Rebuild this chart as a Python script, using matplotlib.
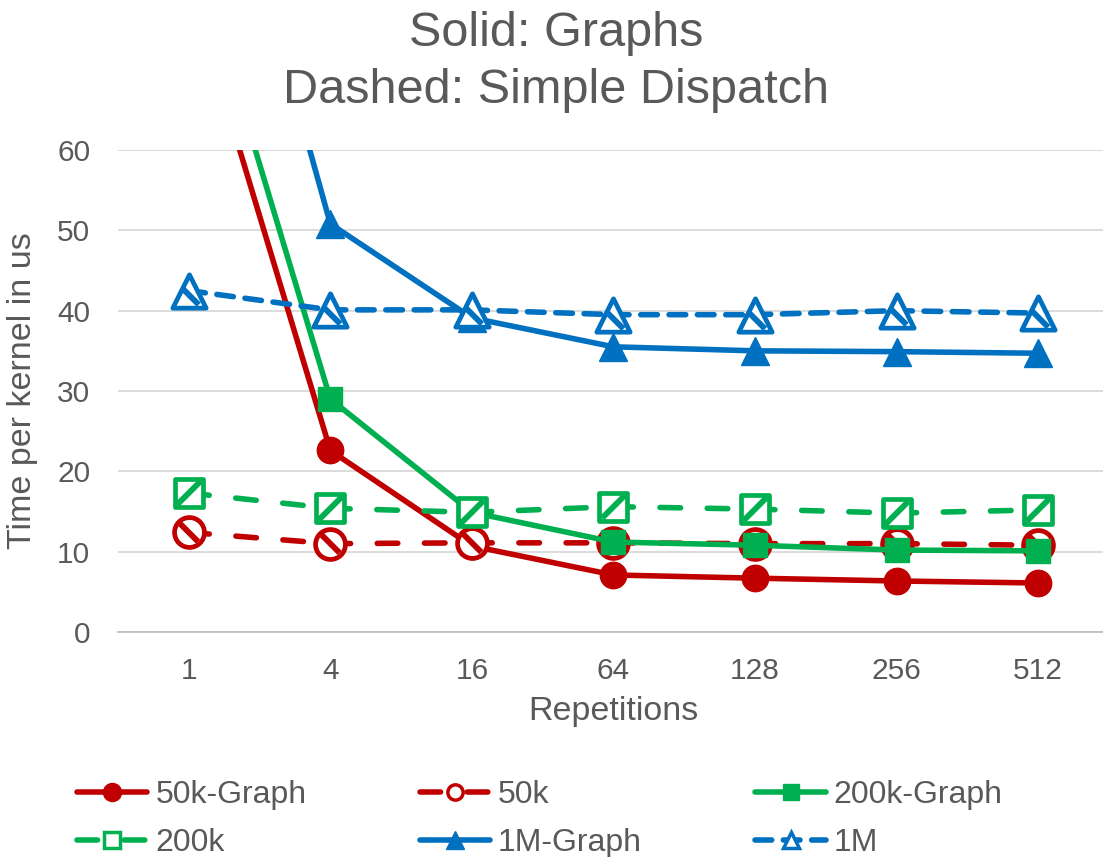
import matplotlib.pyplot as plt
from matplotlib.lines import Line2D
from matplotlib.path import Path

plt.rcParams['font.family'] = ['Liberation Sans', 'DejaVu Sans']

# repetitions on the category axis
reps = ["1", "4", "16", "64", "128", "256", "512"]

# time per kernel (us), graph launches
graph_50k = [81.0, 22.6, 10.7, 7.1, 6.7, 6.35, 6.1]
graph_200k = [87.5, 29.0, 14.9, 11.2, 10.8, 10.2, 10.1]
graph_1m = [114.0, 50.8, 39.1, 35.5, 35.0, 34.9, 34.7]

# time per kernel (us), simple dispatch
plain_50k = [12.4, 11.0, 11.1, 11.1, 11.0, 11.0, 10.8]
plain_200k = [17.3, 15.4, 14.9, 15.6, 15.3, 14.8, 15.2]
plain_1m = [42.5, 40.1, 40.1, 39.5, 39.5, 40.0, 39.7]

red = "#C00000"
green = "#00B050"
blue = "#0070C0"
txt = "#595959"

# diagonal stripe drawn inside the hollow markers; the leading MOVETO
# at the unit corner keeps the stripe scaled like the outer marker
M, L = Path.MOVETO, Path.LINETO
stripe_circle = Path([(1, 1), (-0.62, 0.62), (0.62, -0.62)], [M, M, L])
stripe_square = Path([(1, 1), (-0.85, -0.85), (0.85, 0.85)], [M, M, L])
stripe_tri = Path([(1, 1), (-0.4, 0.15), (0.6, -0.85)], [M, M, L])

fig = plt.figure(figsize=(11.03, 8.57), dpi=100)
ax = fig.add_axes([118 / 1103, 1 - 632 / 857, 991 / 1103, 482 / 857])
x = list(range(len(reps)))

lw = 4.0
long_dash = (3.7, 4.8)
short_dash = (3.0, 2.1)

# (values, colour, marker, size, solid?, stripe, dash)
series = [
    (graph_50k, red, "o", 19, True, None, None),
    (plain_50k, red, "o", 21.5, False, stripe_circle, long_dash),
    (graph_200k, green, "s", 17, True, None, None),
    (plain_200k, green, "s", 19.5, False, stripe_square, long_dash),
    (graph_1m, blue, "^", 20, True, None, None),
    (plain_1m, blue, "^", 24, False, stripe_tri, short_dash),
]

for i, (vals, col, mk, ms, solid, stripe, dash) in enumerate(series):
    z = 2 + 2 * i
    if solid:
        ax.plot(x, vals, color=col, lw=lw, marker=mk, ms=ms, mec=col, mew=1,
                solid_capstyle="round", solid_joinstyle="round", zorder=z)
    else:
        ax.plot(x, vals, color=col, lw=lw, dashes=dash,
                dash_capstyle="round", zorder=z)
        ax.scatter(x, vals, s=ms ** 2, marker=mk, facecolor="white",
                   edgecolor=col, linewidths=3.4, zorder=z + 1)
        ax.scatter(x, vals, s=ms ** 2, marker=stripe, facecolor="none",
                   edgecolor=col, linewidths=4.2, zorder=z + 1)

ax.set_xlim(-0.5, 6.5)
ax.set_ylim(0, 60)
ax.set_xticks(x)
ax.set_xticklabels(reps)
ax.set_yticks(range(0, 61, 10))
ax.tick_params(length=0, labelsize=21.5, labelcolor=txt)
ax.tick_params(axis="y", pad=20)
ax.tick_params(axis="x", pad=18)
ax.grid(axis="y", color="#D9D9D9", lw=1.3)
ax.set_axisbelow(True)
for s in ["left", "right", "top"]:
    ax.spines[s].set_visible(False)
ax.spines["bottom"].set_color("#BFBFBF")
ax.spines["bottom"].set_linewidth(1.3)

ax.set_xlabel("Repetitions", fontsize=24.5, color=txt, labelpad=8)
ax.set_ylabel("Time per kernel in us", fontsize=24.5, color=txt, labelpad=14)

fig.text(556 / 1103, 1 - 62 / 857, "Solid: Graphs\nDashed: Simple Dispatch",
         ha="center", va="center", fontsize=35, color=txt, linespacing=1.32)

# legend proxies, ordered column by column for a 3-column layout
def proxy(col, mk, ms, solid, dash):
    if solid:
        return Line2D([], [], color=col, lw=lw, marker=mk, ms=ms, mec=col,
                      solid_capstyle="round")
    return Line2D([], [], color=col, lw=lw, dashes=dash, dash_capstyle="round",
                  marker=mk, ms=ms, mfc="white", mec=col, mew=2.5)

labels = ["50k-Graph", "200k", "50k", "1M-Graph", "200k-Graph", "1M"]
handles = [
    proxy(red, "o", 13, True, None),
    proxy(green, "s", 11, False, long_dash),
    proxy(red, "o", 11, False, long_dash),
    proxy(blue, "^", 13, True, None),
    proxy(green, "s", 12, True, None),
    proxy(blue, "^", 11, False, short_dash),
]
fig.legend(handles, labels, ncol=3, loc="upper left",
           bbox_to_anchor=(77 / 1103, 1 - 780 / 857), frameon=False,
           fontsize=23, labelcolor=txt, handlelength=2.2, handletextpad=0.25,
           columnspacing=3.55, borderpad=0, borderaxespad=0, labelspacing=0.56)

fig.savefig("out.png", dpi=100)
